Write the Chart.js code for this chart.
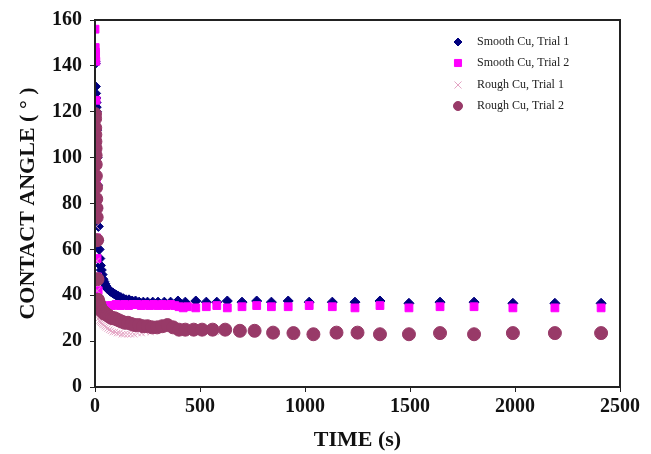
<!DOCTYPE html>
<html>
<head>
<meta charset="utf-8">
<script src="https://cdn.jsdelivr.net/npm/chart.js@4/dist/chart.umd.min.js"></script>
<style>
  html, body { margin: 0; padding: 0; background: #fff; }
  #wrap { width: 651px; height: 454px; }
</style>
</head>
<body>
<div id="wrap"><canvas id="chart" width="651" height="454"></canvas></div>
<script>
// time (s) and contact angle (deg) for each run
var smooth1_t = [0,1,2,3,4,5,6,7,8,10,12,14,16,18,20,23,26,30,34,38,42,47,52,58,64,70,77,85,93,102,112,123,135,148,162,177,193,210,230,250,275,300,330,360,395,430,480,530,580,630,700,770,840,920,1020,1130,1238,1357,1495,1643,1805,1990,2190,2410];
var smooth1_y = [142,141,131,128,126,124,122,120,112,100,88,78,70,64,60,56,53,51,49,47,46,45,44,43,42.5,42,41.5,41,40.5,40,39.5,39,38.5,38,38,37.5,37.5,37,37,37,37,37,37,37,37.5,37,37.5,37,37,37.5,37,37.5,37,37.5,37,37,37,37.5,36.5,37,37,36.5,36.5,36.5];

var smooth2_t = [0,1,2,3,4,5,6,8,10,12,15,18,21,25,30,35,40,60,80,100,120,140,160,180,200,220,240,260,280,300,320,340,360,380,400,420,440,480,530,580,630,700,770,840,920,1020,1130,1238,1357,1495,1643,1805,1990,2190,2410];
var smooth2_y = [156,148,146,145,142,125,90,65,56,48,42,38,36.5,36,35.5,35,35,35.5,35.5,36,35.5,36,35.5,36,36,35.5,36,35.5,36,35.5,36,35.5,36,35.5,35,34.5,35,34.5,35,35.5,34.5,35,35.5,35,35,35.5,35,34.5,35.5,34.5,35,35,34.5,34.5,34.5];

var rough1_t = [0,1,2,3,4,5,6,8,10,12,15,18,22,26,30,35,40,46,52,60,68,76,85,95,105,116,128,140,155,170,186,203,222,242,265,290,320,350,390,430,480,540,600,680,760,850,950,1050,1150,1250];
var rough1_y = [118,112,105,98,90,80,70,55,42,35,32,30,29,28.5,28,27.5,27,26.5,26,25.5,25,24.5,24,24,23.5,23.5,23,23,23,23,23,23.5,23.5,24,24,24.5,25,25,24.5,24.5,24,24,24,24,23.5,23.5,23,23,23,23];

var rough2_t = [0,0.5,1,1.5,2,2.5,3,3.5,4,5,6,7,8,10,12,14,17,20,24,28,33,38,44,50,57,65,73,82,92,103,115,128,142,157,173,190,208,228,250,272,296,320,345,372,400,430,470,510,560,620,690,760,848,945,1040,1150,1250,1357,1495,1643,1805,1990,2190,2410];
var rough2_y = [119,117,113,110,107,104,101,97,92,87,82,78,74,64,47,38,37,36,35,34,33,33,32,32,31.5,31,30.5,30,30,29.5,29,28.5,28,28,27.5,27,27,26.5,26.5,26,26,26.5,27,26,25,25,25,25,25,25,24.5,24.5,23.7,23.5,23,23.7,23.7,23,23,23.5,23,23.5,23.5,23.5];

var series_labels = ["Smooth Cu, Trial 1", "Smooth Cu, Trial 2", "Rough Cu, Trial 1", "Rough Cu, Trial 2"];
var x_ticks = [0, 500, 1000, 1500, 2000, 2500];
var y_ticks = [0, 20, 40, 60, 80, 100, 120, 140, 160];

function toPoints(ts, ys) {
    return ts.map(function (t, i) { return {x: t, y: ys[i]}; });
}

var serif = "'Liberation Serif', 'Times New Roman', serif";

// box round the plot area + legend drawn inside it
var framePlugin = {
    id: "frame",
    afterDraw: function (chart) {
        var ctx = chart.ctx;
        var a = chart.chartArea;
        ctx.save();
        ctx.strokeStyle = "#222";
        ctx.lineWidth = 2;
        ctx.strokeRect(a.left, a.top, a.right - a.left, a.bottom - a.top);
        ctx.restore();

        var rows = [42, 63, 85, 106];
        chart.data.datasets.forEach(function (ds, i) {
            ctx.save();
            ctx.fillStyle = ds.pointBackgroundColor;
            ctx.strokeStyle = ds.pointBorderColor;
            ctx.lineWidth = 1;
            Chart.helpers.drawPoint(ctx, {
                pointStyle: ds.pointStyle,
                radius: ds.legendRadius,
                rotation: 0,
                borderWidth: 1
            }, 458, rows[i]);
            ctx.font = "12px " + serif;
            ctx.textBaseline = "middle";
            ctx.fillStyle = "#222";
            ctx.fillText(ds.label, 477, rows[i]);
            ctx.restore();
        });
    }
};

var datasets = [
    {
        label: series_labels[0],
        data: toPoints(smooth1_t, smooth1_y),
        pointStyle: "rectRot",
        pointRadius: 5,
        legendRadius: 4,
        pointBackgroundColor: "#00007f",
        pointBorderColor: "#00007f",
        pointBorderWidth: 1,
        order: 3
    },
    {
        label: series_labels[1],
        data: toPoints(smooth2_t, smooth2_y),
        pointStyle: "rect",
        pointRadius: 5.5,
        legendRadius: 5,
        pointBackgroundColor: "#ff00ff",
        pointBorderColor: "#ff00ff",
        pointBorderWidth: 1,
        order: 2
    },
    {
        label: series_labels[2],
        data: toPoints(rough1_t, rough1_y),
        pointStyle: "crossRot",
        pointRadius: 4.5,
        legendRadius: 5,
        pointBackgroundColor: "#e4a4c4",
        pointBorderColor: "#e4a4c4",
        pointBorderWidth: 1,
        order: 1
    },
    {
        label: series_labels[3],
        data: toPoints(rough2_t, rough2_y),
        pointStyle: "circle",
        pointRadius: 6.5,
        legendRadius: 4.5,
        pointBackgroundColor: "#983a68",
        pointBorderColor: "#983a68",
        pointBorderWidth: 1,
        order: 0
    }
];

new Chart(document.getElementById("chart"), {
    type: "scatter",
    data: { datasets: datasets },
    options: {
        responsive: false,
        animation: false,
        layout: { padding: { top: 15, right: 31, left: 0, bottom: 0 } },
        plugins: {
            legend: { display: false },
            tooltip: { enabled: false }
        },
        scales: {
            x: {
                type: "linear",
                min: 0,
                max: 2500,
                afterBuildTicks: function (s) { s.ticks = x_ticks.map(function (v) { return {value: v}; }); },
                afterFit: function (s) { s.height = 67; },
                grid: { drawOnChartArea: false, drawTicks: true, tickLength: 5, color: "#222", lineWidth: 1 },
                border: { color: "#222", width: 2 },
                ticks: {
                    color: "#111", padding: 3, maxRotation: 0,
                    font: { family: serif, size: 20, weight: "bold" },
                    callback: function (v) { return String(v); }
                },
                title: { display: true, text: "TIME (s)", color: "#111", padding: { top: 3, bottom: 0 }, font: { family: serif, size: 22, weight: "bold" } }
            },
            y: {
                min: 0,
                max: 160,
                afterBuildTicks: function (s) { s.ticks = y_ticks.map(function (v) { return {value: v}; }); },
                afterFit: function (s) { s.width = 95; },
                grid: { drawOnChartArea: false, drawTicks: true, tickLength: 5, color: "#222", lineWidth: 1 },
                border: { color: "#222", width: 2 },
                ticks: {
                    color: "#111", padding: 8,
                    font: { family: serif, size: 20, weight: "bold" },
                    callback: function (v) { return String(v); }
                },
                title: { display: true, text: "CONTACT ANGLE ( ° )", color: "#111", padding: { top: 15, bottom: 0 }, font: { family: serif, size: 22, weight: "bold" } }
            }
        }
    },
    plugins: [framePlugin]
});
</script>
</body>
</html>
